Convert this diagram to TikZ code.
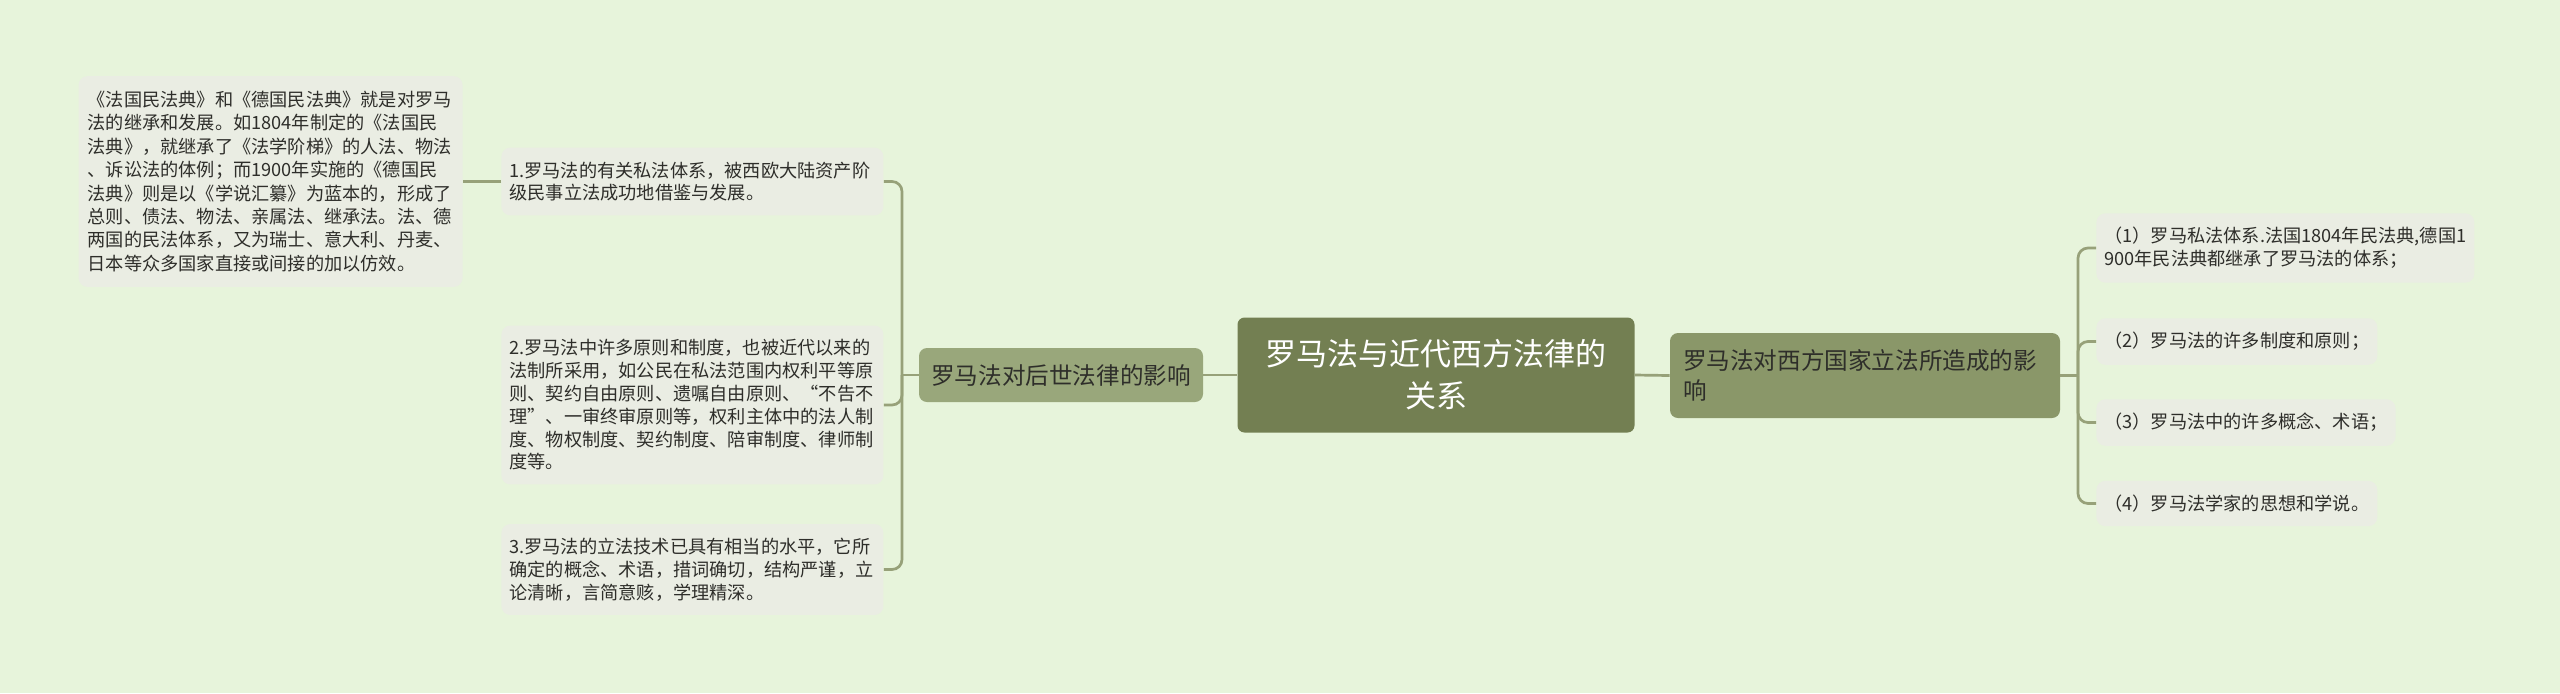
\documentclass[tikz,border=0pt]{standalone}
\usepackage{fontspec}
\setmainfont{Noto Sans CJK SC}
\definecolor{bgc}{HTML}{E7F4DB}
\definecolor{rootc}{HTML}{737F52}
\definecolor{leftc}{HTML}{99A77B}
\definecolor{rightc}{HTML}{8A9769}
\definecolor{leafc}{HTML}{EAEDE3}
\definecolor{linec}{HTML}{97A179}
\definecolor{txtc}{HTML}{2E2E2A}

\begin{document}
\begin{tikzpicture}[x=0.5pt,y=-0.5pt]
    \tikzset{
        rootbox/.style={
            fill=rootc, rounded corners=3.5pt, text=white, align=center,
            minimum width=198.5pt, minimum height=57.5pt,
            font=\fontsize{15.5pt}{21pt}\selectfont
        },
        subbox/.style={
            fill=#1, rounded corners=4pt, text=txtc,
            font=\fontsize{11.8pt}{15pt}\selectfont
        },
        leaf/.style={
            fill=leafc, rounded corners=4.5pt, text=txtc, align=left,
            inner xsep=4pt, inner ysep=7pt,
            font=\fontsize{9.1pt}{11.4pt}\selectfont
        },
        link/.style={draw=linec, line width=1.35pt, rounded corners=5pt}
    }

    \fill[bgc] (0,0) rectangle (2560,693);
    \useasboundingbox (0,0) rectangle (2560,693);

    \node[rootbox] (root) at (1436,375) {罗马法与近代西方法律的\\关系};
    \node[subbox=leftc, minimum width=142pt, minimum height=27pt] (later) at (1061,375) {罗马法对后世法律的影响};
    \node[subbox=rightc, minimum width=195pt, minimum height=42.5pt, text width=182pt, inner xsep=6.5pt, align=left] (west) at (1865,375.5) {罗马法对西方国家立法所造成的影\\响};

    \node[leaf, text width=183pt, anchor=west] (la) at (501,181.5) {1.罗马法的有关私法体系，被西欧大陆资产阶\\级民事立法成功地借鉴与发展。};
    \node[leaf, text width=183pt, anchor=west] (lb) at (501,405) {2.罗马法中许多原则和制度，也被近代以来的\\法制所采用，如公民在私法范围内权利平等原\\则、契约自由原则、遗嘱自由原则、“不告不\\理”、一审终审原则等，权利主体中的法人制\\度、物权制度、契约制度、陪审制度、律师制\\度等。};
    \node[leaf, text width=183pt, anchor=west] (lc) at (501,569.5) {3.罗马法的立法技术已具有相当的水平，它所\\确定的概念、术语，措词确切，结构严谨，立\\论清晰，言简意赅，学理精深。};
    \node[leaf, text width=183pt, inner xsep=4.5pt, inner ysep=7.5pt, anchor=east, font=\fontsize{9.1pt}{11.7pt}\selectfont] (code) at (463,181.5) {《法国民法典》和《德国民法典》就是对罗马\\法的继承和发展。如1804年制定的《法国民\\法典》，就继承了《法学阶梯》的人法、物法\\、诉讼法的体例；而1900年实施的《德国民\\法典》则是以《学说汇纂》为蓝本的，形成了\\总则、债法、物法、亲属法、继承法。法、德\\两国的民法体系，又为瑞士、意大利、丹麦、\\日本等众多国家直接或间接的加以仿效。};

    \node[leaf, anchor=west] (ra) at (2096,248) {（1）罗马私法体系.法国1804年民法典,德国1\\900年民法典都继承了罗马法的体系；};
    \node[leaf, anchor=west] (rb) at (2096,341.5) {（2）罗马法的许多制度和原则；};
    \node[leaf, anchor=west] (rc) at (2096,422.5) {（3）罗马法中的许多概念、术语；};
    \node[leaf, anchor=west] (rd) at (2096,503.5) {（4）罗马法学家的思想和学说。};

    \coordinate (lfork) at (902,375);
    \coordinate (rfork) at (2078,375.5);

    \draw[link] (root.west) -- (later.east);
    \draw[link] (root.east) -- (west.west);
    \draw[link] (later.west) -- (lfork);
    \draw[link] (lfork) |- (la.east);
    \draw[link] (lfork) |- (lb.east);
    \draw[link] (lfork) |- (lc.east);
    \draw[link] (la.west) -- (code.east);
    \draw[link] (west.east) -- (rfork);
    \draw[link] (rfork) |- (ra.west);
    \draw[link] (rfork) |- (rb.west);
    \draw[link] (rfork) |- (rc.west);
    \draw[link] (rfork) |- (rd.west);
\end{tikzpicture}
\end{document}
